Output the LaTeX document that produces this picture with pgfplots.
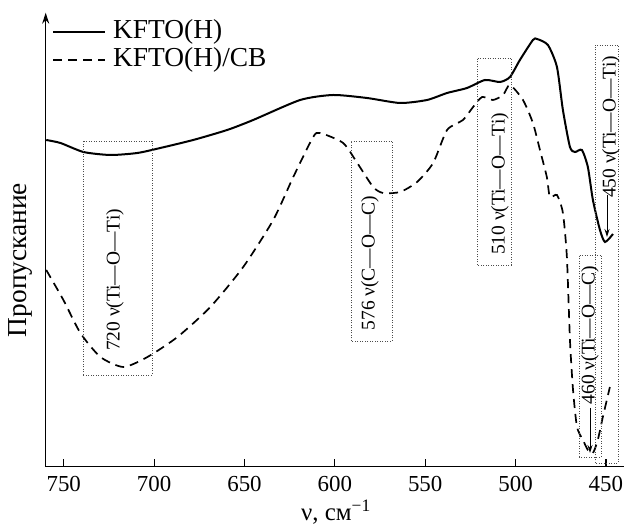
\documentclass[border=0pt]{standalone}
\usepackage{fontspec}
\setmainfont{Liberation Serif}
\usepackage{pgfplots}
\pgfplotsset{compat=1.18}
\usetikzlibrary{arrows.meta}
\newcommand\fTick{\fontsize{23}{27}\selectfont}
\newcommand\fLeg{\fontsize{27.5}{32}\selectfont}
\newcommand\fXl{\fontsize{25}{29}\selectfont}
\newcommand\fAnn{\fontsize{19.5}{23}\selectfont}
\begin{document}
\begin{tikzpicture}
\path[use as bounding box] (-45.7bp,-60.3bp) rectangle (584.3bp,466.7bp);
\begin{axis}[
  at={(0,0)}, anchor=south west,
  scale only axis, width=578.3bp, height=454bp,
  x dir=reverse, xmin=440, xmax=760, ymin=0, ymax=454,
  axis x line=bottom, axis y line=left,
  x axis line style={-},
  y axis line style={-{Stealth[length=11bp,width=7bp]}},
  axis line style={line width=1.2bp},
  xtick={450,500,...,750}, ytick=\empty,
  tick align=inside, major tick length=8bp,
  tick style={line width=1.2bp, black},
  /pgf/number format/assume math mode=true,
  xticklabel style={font=\fTick, yshift=-6bp},
  clip=false,
]
\addplot[black, line width=2bp, smooth, tension=0.4] coordinates {
(759.7,326.7) (751.8,323.7) (739.1,314.7) (724.2,311.7) (709.3,313.7)
(696.6,318.7) (678.4,326.7) (659.6,336.7) (645.2,346.7) (619.2,366.7)
(601,371.7) (582.2,368.7) (563.9,363.7) (549,366.7) (537.9,373.7)
(526.9,378.7) (516.9,386.7) (508.6,384.7) (503.1,389.7) (497.6,406.7)
(490.4,426.7) (488.1,427.7) (482.1,421.7) (477.1,399.7) (473.8,356.7)
(469.9,319.7) (467.1,314.7) (463.3,316.7) (460,299.7) (457.2,266.7)
(453.3,236.7) (450.5,224.7) (446.1,232.7)
};
\addplot[black, line width=1.7bp, dash pattern=on 9bp off 6bp, smooth, tension=0.4] coordinates {
(759.7,196.7) (750.2,166.7) (740.8,133.7) (729.7,109.7) (717,99.7)
(703.7,109.7) (687.1,129.7) (668.9,159.7) (650.7,199.7) (634.1,246.7)
(623,289.7) (612,329.7) (608.1,333.7) (595.4,323.7) (587.6,303.7)
(578.8,279.7) (573.3,273.7) (563.9,274.7) (554.5,284.7) (545.6,303.7)
(537.9,336.7) (529.1,346.7) (523.5,359.7) (518.5,369.7) (512.5,366.7)
(506.9,371.7) (503.1,381.7) (495.9,366.7) (490.4,343.7) (486.5,316.7)
(482.7,289.7) (481,269.7) (477.1,271.7) (473.8,253.7) (471.6,209.7)
(469.9,126.7) (468.2,76.7) (466,39.7) (462.7,26.7) (460,16.7)
(457.2,13.7) (454.5,26.7) (451.7,49.7) (447.8,79.7)
};
\end{axis}
% x label and y label
\node[font=\fXl, anchor=base] at (290.3bp,-53.5bp) {ν, см\textsuperscript{−1}};
\node[font=\fLeg, rotate=90] at (-25.7bp,206.7bp) {Пропускание};
% legend
\draw[black, line width=2bp] (7.3bp,434.7bp) -- (59.3bp,434.7bp);
\node[font=\fLeg, anchor=west, inner sep=0pt] at (67.3bp,434.7bp) {KFTO(H)};
\draw[black, line width=1.7bp, dash pattern=on 9bp off 6bp] (7.3bp,406.7bp) -- (59.3bp,406.7bp);
\node[font=\fLeg, anchor=west, inner sep=0pt] at (67.3bp,406.7bp) {KFTO(H)/CB};
% annotation boxes
\tikzset{box/.style={draw=black!70, line width=0.8bp, dash pattern=on 1bp off 1.5bp}}
\draw[box] (37.3bp,91.7bp) rectangle (106.3bp,325.7bp);
\draw[box] (305.3bp,125.7bp) rectangle (346.3bp,325.7bp);
\draw[box] (431.3bp,201.7bp) rectangle (465.3bp,408.7bp);
\draw[box] (533.3bp,9.7bp) rectangle (555.3bp,211.7bp);
\draw[box] (549.3bp,3.7bp) rectangle (572.3bp,421.7bp);
% annotation texts
\node[font=\fAnn, rotate=90] at (69.3bp,186.7bp) {720 ν(Ti—O—Ti)};
\node[font=\fAnn, rotate=90] at (324.3bp,203.7bp) {576 ν(C—O—C)};
\node[font=\fAnn, rotate=90] at (454.3bp,282.7bp) {510 ν(Ti—O—Ti)};
\node[font=\fAnn, rotate=90] at (565.3bp,339.7bp) {450 ν(Ti—O—Ti)};
\node[font=\fAnn, rotate=90] at (544.3bp,131.7bp) {460 ν(Ti—O—C)};
\draw[line width=1bp, -{Stealth[length=8bp,width=5bp]}] (561.3bp,271.7bp) -- (561.3bp,229.7bp);
\draw[line width=1bp, -{Stealth[length=8bp,width=5bp]}] (544.3bp,58.7bp) -- (544.3bp,13.7bp);
\end{tikzpicture}
\end{document}
